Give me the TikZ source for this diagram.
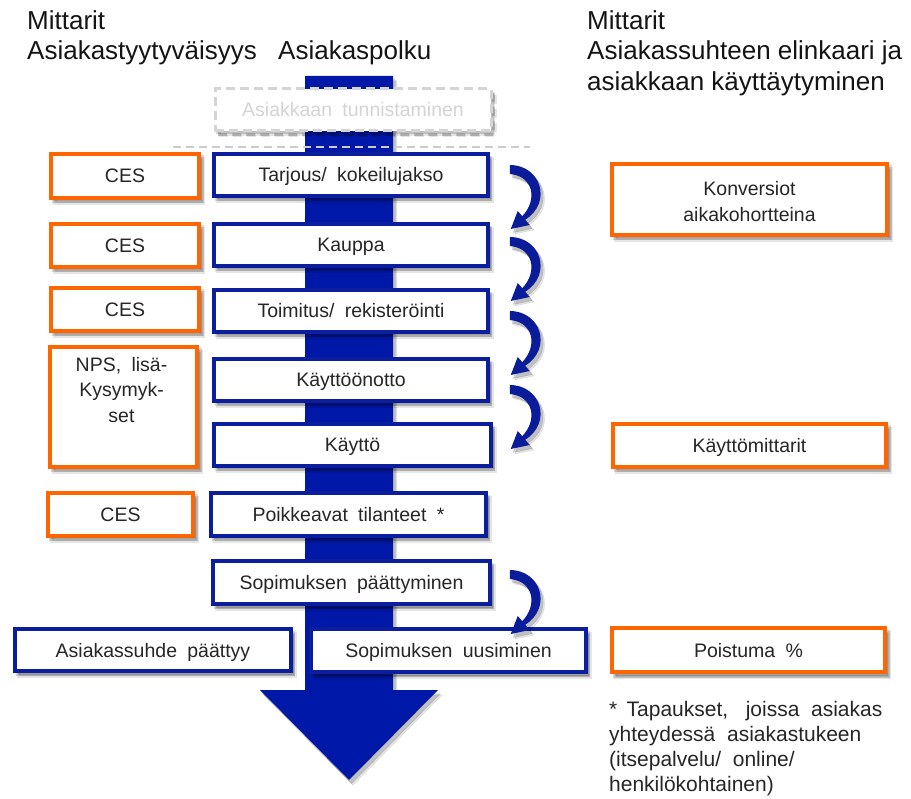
\documentclass[tikz,border=0pt]{standalone}
\usepackage{fontspec}
\setmainfont{Liberation Sans}
\newfontfamily\spacedfont{Liberation Sans}[WordSpace=1.9]
\usetikzlibrary{shadows,calc}
\definecolor{pathblue}{HTML}{0018A8}
\definecolor{boxblue}{HTML}{0A1E9E}
\definecolor{turnblue}{HTML}{0A1C9A}
\definecolor{metricorange}{HTML}{FF6600}
\definecolor{ink}{HTML}{262626}
\definecolor{ghost}{HTML}{D4D4D4}
\definecolor{ghostline}{HTML}{CCCCCC}

\begin{document}
\begin{tikzpicture}[x=1pt,y=-1pt,
  softshadow/.style={
    drop shadow={shadow xshift=4pt,shadow yshift=-5pt,opacity=0.10,fill=black,draw=black},
    drop shadow={shadow xshift=2.5pt,shadow yshift=-3.5pt,opacity=0.16,fill=black,draw=black}},
  boxtext/.style={font=\spacedfont\fontsize{19.5}{25.5}\selectfont, text=ink},
  pathstep/.style={rectangle, draw=boxblue, line width=3.5pt, fill=white,
      minimum width=274pt, minimum height=42pt, inner sep=0pt, boxtext,
      text height=14pt, text depth=0pt, softshadow},
  metric/.style={rectangle, draw=metricorange, line width=4pt, fill=white,
      minimum height=43pt, inner sep=0pt, boxtext,
      text height=14pt, text depth=0pt, softshadow},
  header/.style={anchor=base west, inner sep=0pt,
      font=\fontsize{26}{30}\selectfont, text=black!92},
  turnarrow/.pic={
    \fill[turnblue, softshadow]
      (0,-1) .. controls (31,-1) and (43,36) .. (15.5,53.8)
      -- (20,59) -- (1,63) -- (8,45) -- (12.5,50.2)
      .. controls (28,34) and (24,10) .. (0,8) -- cycle;
  },
]
\useasboundingbox (0,0) rectangle (911,799);

% headers
\node[header] (lefthead1) at (27,30) {Mittarit};
\node[header] (lefthead2) at (27,60) {Asiakastyytyväisyys};
\node[header] (midhead) at (278,60) {Asiakaspolku};
\node[header] (righthead1) at (587,30) {Mittarit};
\node[header] (righthead2) at (587,60) {Asiakassuhteen elinkaari ja};
\node[header] (righthead3) at (587,91) {asiakkaan käyttäytyminen};

% the customer path: broad downward arrow
\fill[pathblue, softshadow] (305,76) -- (393,76) -- (393,690) -- (438,690)
  -- (349,780) -- (260,690) -- (305,690) -- cycle;

% identification step (greyed out) and the dashed separator
\node[rectangle, draw=ghost, dash pattern=on 9pt off 5pt, line width=3pt,
  fill=white, minimum width=276pt, minimum height=42pt, inner sep=0pt,
  font=\spacedfont\fontsize{19.5}{24}\selectfont, text=ghost,
  text height=14pt, text depth=0pt, softshadow]
  (tunnistus) at (353,110) {Asiakkaan tunnistaminen};
\coordinate (sepL) at (173,147);
\coordinate (sepR) at (530,147);
\draw[ghostline, line width=1.5pt, dash pattern=on 8pt off 5pt] (sepL) -- (sepR);

% path steps
\node[pathstep] (tarjous) at (351,175) {Tarjous/ kokeilujakso};
\node[pathstep] (kauppa) at (351,245) {Kauppa};
\node[pathstep] (toimitus) at (351,311) {Toimitus/ rekisteröinti};
\node[pathstep] (kayttoonotto) at (351,380) {Käyttöönotto};
\node[pathstep, minimum width=277pt] (kaytto) at (352.5,445) {Käyttö};
\node[pathstep, minimum width=275pt, minimum height=43pt] (poikkeavat) at (348.5,514.5) {Poikkeavat tilanteet *};
\node[pathstep, minimum width=277pt, minimum height=43pt] (paattyminen) at (351.5,582.5) {Sopimuksen päättyminen};
\node[pathstep, minimum width=275pt, minimum height=43pt] (uusiminen) at (448.5,650.5) {Sopimuksen uusiminen};
\node[pathstep, minimum width=276pt] (suhdepaattyy) at (153,650) {Asiakassuhde päättyy};

% satisfaction metrics
\node[metric, minimum width=148pt, minimum height=44pt] (ces1) at (125,176) {CES};
\node[metric, minimum width=148pt] (ces2) at (125,245.5) {CES};
\node[metric, minimum width=148pt] (ces3) at (125,309.5) {CES};
\node[metric, minimum width=147pt, minimum height=120pt] (nps) at (123.5,407) {};
\node[boxtext, align=center, anchor=north, inner sep=0pt] (npstext)
  at ($(nps.north)+(-2,12)$) {NPS, lisä-\\Kysymyk-\\set};
\node[metric, minimum width=145pt] (ces4) at (120.5,514.5) {CES};

% lifecycle and behaviour metrics
\node[metric, minimum width=275pt, minimum height=71pt] (konversiot) at (749.5,199.5) {};
\node[boxtext, align=center, inner sep=0pt] (konvtext)
  at ($(konversiot.center)+(0,2)$) {Konversiot\\aikakohortteina};
\node[metric, minimum width=273pt] (kayttomittarit) at (749.5,445.5) {Käyttömittarit};
\node[metric, minimum width=273pt, minimum height=44pt] (poistuma) at (748.5,650) {Poistuma \%};

% turning arrows from one step to the next
\pic at ($(tarjous.east)+(20,-9)$) {turnarrow};
\pic at ($(kauppa.east)+(20,-7)$) {turnarrow};
\pic at ($(toimitus.east)+(20,1)$) {turnarrow};
\pic at ($(kayttoonotto.east)+(20,6)$) {turnarrow};
\pic at ($(paattyminen.east)+(18,-11.5)$) {turnarrow};

% footnote
\node[anchor=north west, inner sep=0pt, align=left,
  font=\fontsize{21}{25}\selectfont, text=ink] (footnote) at (609,701.5)
  {*\,\ Tapaukset,\ \ \ joissa\ \ asiakas\\yhteydessä\ \ asiakastukeen\\(itsepalvelu/\ \ online/\\henkilökohtainen)};
\end{tikzpicture}
\end{document}
